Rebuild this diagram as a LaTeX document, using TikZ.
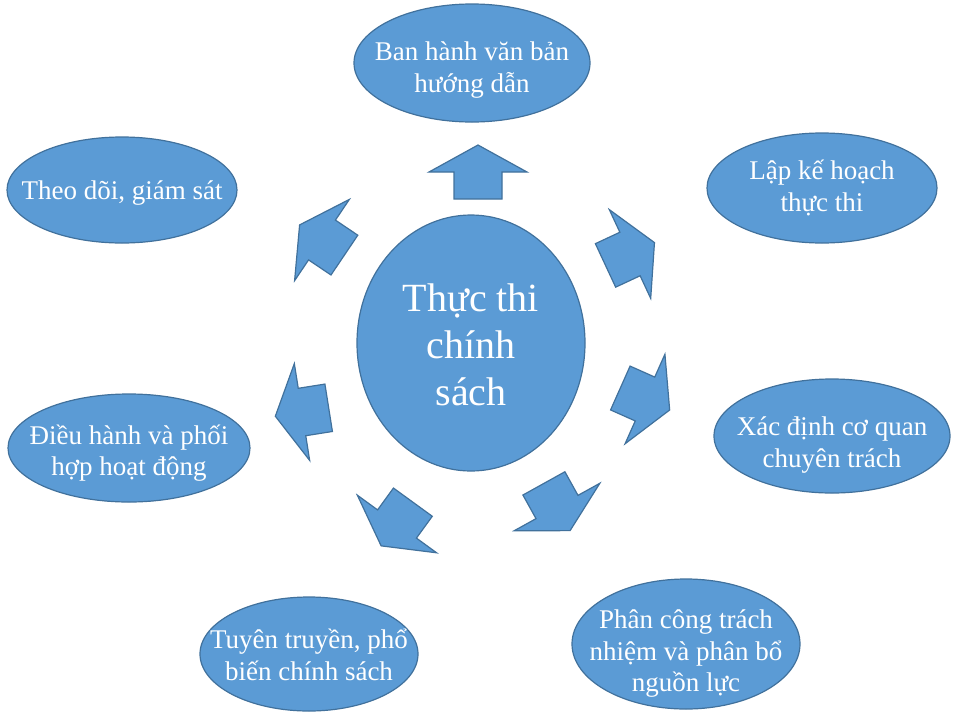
\documentclass[tikz,border=0pt]{standalone}
\usepackage{fontspec}
\setmainfont{Liberation Serif}
\usetikzlibrary{shapes.geometric}
\definecolor{bfill}{HTML}{5B9BD5}
\definecolor{bline}{HTML}{41719C}
\tikzset{
  bubble/.style={ellipse, fill=bfill, draw=bline, line width=1.2pt, inner sep=0pt},
  label/.style={text=white, align=center, inner sep=0pt, font=\fontsize{27}{31.5}\selectfont},
  hublabel/.style={label, font=\fontsize{40}{47}\selectfont},
  arrowstyle/.style={fill=bfill, draw=bline, line width=1.2pt, line join=miter},
  blockarrow/.pic={\draw[arrowstyle] (27,0) -- (0,49) -- (0,24) -- (-27,24) -- (-27,-24) -- (0,-24) -- (0,-49) -- cycle;}
}
\begin{document}
\begin{tikzpicture}[x=1pt,y=-1pt]
\useasboundingbox (0,0) rectangle (956,713);
\node[bubble, minimum width=228pt, minimum height=256pt] (c) at (471,343) {};
\node[hublabel, yshift=-2pt] (ct) at (c) {Thực thi\\chính\\sách};
\node[bubble, minimum width=236pt, minimum height=118pt] (b1) at (472,63) {};
\node[label, yshift=-7pt] (t1) at (b1) {Ban hành văn bản\\hướng dẫn};
\node[bubble, minimum width=230pt, minimum height=110pt] (b2) at (822,188) {};
\node[label] (t2) at (b2) {Lập kế hoạch\\thực thi};
\node[bubble, minimum width=236pt, minimum height=114pt] (b3) at (832,436) {};
\node[label, yshift=-9pt] (t3) at (b3) {Xác định cơ quan\\chuyên trách};
\node[bubble, minimum width=228pt, minimum height=130pt] (b4) at (686,644) {};
\node[label, yshift=-10pt] (t4) at (b4) {Phân công trách\\nhiệm và phân bổ\\nguồn lực};
\node[bubble, minimum width=218pt, minimum height=114pt] (b5) at (309,654) {};
\node[label, yshift=-1pt] (t5) at (b5) {Tuyên truyền, phổ\\biến chính sách};
\node[bubble, minimum width=242pt, minimum height=108pt] (b6) at (129,448) {};
\node[label, yshift=-5pt] (t6) at (b6) {Điều hành và phối\\hợp hoạt động};
\node[bubble, minimum width=230pt, minimum height=106pt] (b7) at (122,190) {};
\node[label, yshift=-3pt] (t7) at (b7) {Theo dõi, giám sát};
\pic[rotate=90] at (478,172) {blockarrow};
\pic[rotate=25] at (630,254) {blockarrow};
\pic[rotate=-24] at (645,399) {blockarrow};
\pic[rotate=-61] at (557,507) {blockarrow};
\pic[rotate=-126] at (397,524) {blockarrow};
\pic[rotate=189] at (302,412) {blockarrow};
\pic[rotate=146] at (322,240) {blockarrow};
\end{tikzpicture}
\end{document}
